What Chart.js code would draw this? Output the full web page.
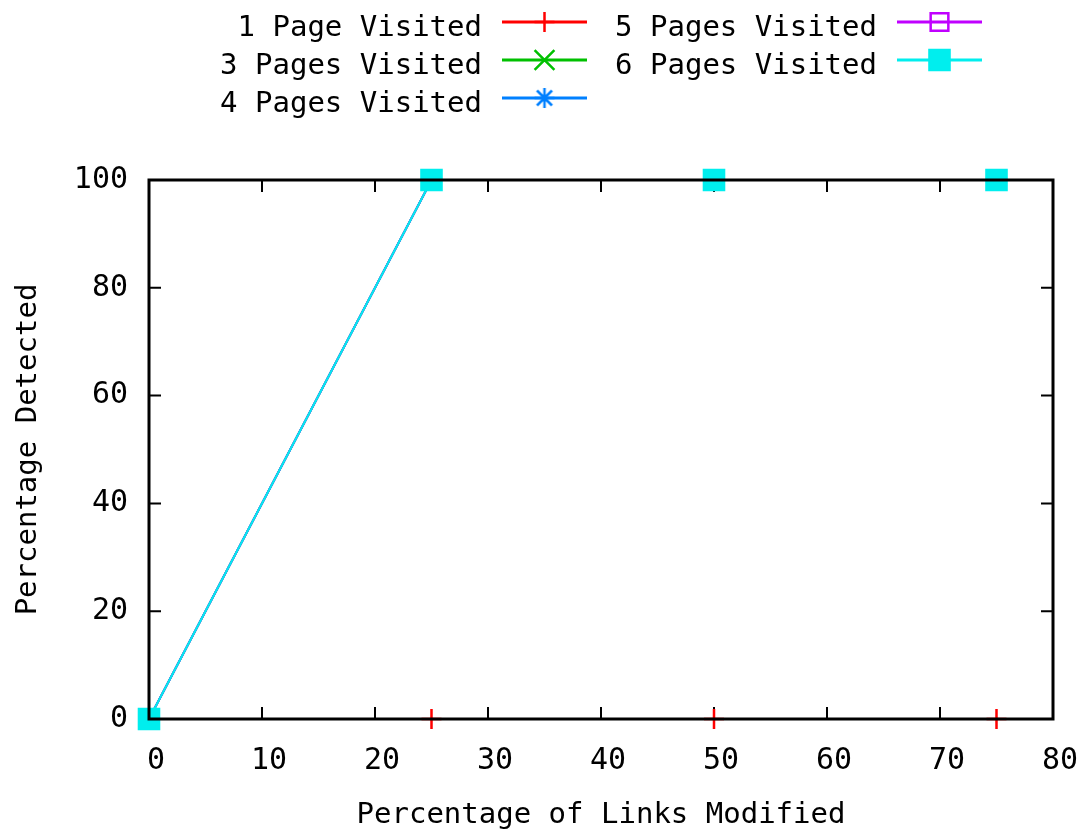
<!DOCTYPE html>
<html>
<head>
<meta charset="utf-8">
<title>Percentage Detected vs Links Modified</title>
<script src="https://cdn.jsdelivr.net/npm/chart.js@4/dist/chart.umd.min.js"></script>
<style>
  html, body { margin: 0; padding: 0; background: #fff; }
  canvas { display: block; }
</style>
</head>
<body>
<canvas id="c" width="1080" height="830"></canvas>
<script>
// Percentage of links modified (x) and percentage detected (y) per series
const linksModified = [0, 25, 50, 75];
const onePageVisited = [0, 0, 0, 0];
const threePagesVisited = [0, 100, 100, 100];
const fourPagesVisited = [0, 100, 100, 100];
const fivePagesVisited = [0, 100, 100, 100];
const sixPagesVisited = [0, 100, 100, 100];
const seriesNames = ['1 Page Visited', '3 Pages Visited', '4 Pages Visited', '5 Pages Visited', '6 Pages Visited'];
const xAxisTitle = 'Percentage of Links Modified';
const yAxisTitle = 'Percentage Detected';

const FONT = '"DejaVu Sans Mono", "Liberation Mono", monospace';

// asterisk marker: a plus and a cross of equal reach
function makeStar(color) {
  const c = document.createElement('canvas');
  c.width = 24; c.height = 24;
  const g = c.getContext('2d');
  g.strokeStyle = color; g.lineWidth = 2.5;
  g.beginPath();
  g.moveTo(12, 2); g.lineTo(12, 22);
  g.moveTo(2, 12); g.lineTo(22, 12);
  g.moveTo(4.5, 4.5); g.lineTo(19.5, 19.5);
  g.moveTo(19.5, 4.5); g.lineTo(4.5, 19.5);
  g.stroke();
  return c;
}

const toPoints = ys => ys.map((y, i) => ({ x: linksModified[i], y }));

const styles = [
  { color: '#ff0000', pointStyle: 'cross',    radius: 10,   fill: 'rgba(0,0,0,0)' },
  { color: '#00c000', pointStyle: 'crossRot', radius: 14,   fill: 'rgba(0,0,0,0)' },
  { color: '#0080ff', pointStyle: makeStar('#0080ff'), radius: 12, fill: 'rgba(0,0,0,0)' },
  { color: '#c000ff', pointStyle: 'rect',     radius: 12.5, fill: 'rgba(0,0,0,0)' },
  { color: '#00eeee', pointStyle: 'rect',     radius: 14.2, fill: '#00eeee' }
];
const seriesValues = [onePageVisited, threePagesVisited, fourPagesVisited, fivePagesVisited, sixPagesVisited];

const datasets = seriesValues.map((vals, i) => ({
  label: seriesNames[i],
  data: toPoints(vals),
  borderColor: styles[i].color,
  backgroundColor: styles[i].fill,
  borderWidth: 2,
  pointStyle: styles[i].pointStyle,
  pointRadius: styles[i].radius,
  pointHoverRadius: styles[i].radius,
  pointBorderColor: styles[i].color,
  pointBackgroundColor: styles[i].fill,
  pointBorderWidth: 2.5,
  tension: 0,
  fill: false,
  clip: false,
  order: seriesValues.length - i
}));

// inner tick marks on all four sides, and the frame drawn over the data
const frame = {
  id: 'frame',
  beforeDatasetsDraw(chart) {
    const { ctx, chartArea: a, scales: { x, y } } = chart;
    const len = 12;
    ctx.save();
    ctx.strokeStyle = '#000';
    ctx.lineWidth = 2;
    ctx.beginPath();
    x.ticks.forEach(t => {
      const px = x.getPixelForValue(t.value);
      ctx.moveTo(px, a.bottom); ctx.lineTo(px, a.bottom - len);
      ctx.moveTo(px, a.top); ctx.lineTo(px, a.top + len);
    });
    y.ticks.forEach(t => {
      const py = y.getPixelForValue(t.value);
      ctx.moveTo(a.left, py); ctx.lineTo(a.left + len, py);
      ctx.moveTo(a.right, py); ctx.lineTo(a.right - len, py);
    });
    ctx.stroke();
    ctx.restore();
  },
  afterDatasetsDraw(chart) {
    const { ctx, chartArea: a } = chart;
    ctx.save();
    ctx.strokeStyle = '#000';
    ctx.lineWidth = 3;
    ctx.strokeRect(a.left, a.top, a.right - a.left, a.bottom - a.top);
    ctx.restore();
  }
};

// key: right-aligned titles followed by a line sample with its marker
const key = {
  id: 'key',
  afterDraw(chart) {
    const { ctx } = chart;
    const columns = [
      { textRight: 482, items: [0, 1, 2] },
      { textRight: 877, items: [3, 4] }
    ];
    const rowY = [22, 60, 98];
    ctx.save();
    ctx.font = '29px ' + FONT;
    ctx.textAlign = 'right';
    ctx.textBaseline = 'middle';
    columns.forEach(col => {
      col.items.forEach((di, r) => {
        const ds = chart.data.datasets[di];
        const yy = rowY[r];
        ctx.fillStyle = '#000';
        ctx.fillText(ds.label, col.textRight, yy + 6);
        const x0 = col.textRight + 20, x1 = col.textRight + 105;
        ctx.strokeStyle = ds.borderColor;
        ctx.lineWidth = 3;
        ctx.beginPath();
        ctx.moveTo(x0, yy); ctx.lineTo(x1, yy);
        ctx.stroke();
        ctx.fillStyle = ds.pointBackgroundColor;
        ctx.lineWidth = 2.5;
        const cx = (x0 + x1) / 2;
        if (Chart.helpers && Chart.helpers.drawPoint) {
          Chart.helpers.drawPoint(ctx, {
            pointStyle: ds.pointStyle,
            radius: ds.pointRadius,
            rotation: 0,
            borderWidth: 2.5
          }, cx, yy);
        }
      });
    });
    ctx.restore();
  }
};

new Chart(document.getElementById('c'), {
  type: 'line',
  data: { datasets },
  options: {
    responsive: false,
    devicePixelRatio: 1,
    animation: false,
    events: [],
    layout: { padding: { top: 180, right: 27, left: 0, bottom: 0 } },
    plugins: { legend: { display: false }, tooltip: { enabled: false } },
    scales: {
      x: {
        type: 'linear',
        min: 0, max: 80,
        ticks: {
          stepSize: 10, color: '#000', padding: 24, labelOffset: 7,
          maxRotation: 0, autoSkip: false,
          font: { family: FONT, size: 30 }
        },
        grid: { display: false, drawTicks: false },
        border: { display: false },
        title: {
          display: true, text: xAxisTitle, color: '#000',
          font: { family: FONT, size: 29, lineHeight: 1 },
          padding: { top: 0, bottom: 0 }
        },
        afterFit(s) { s.height = 111; s.paddingLeft = 0; s.paddingRight = 0; }
      },
      y: {
        type: 'linear',
        min: 0, max: 100,
        ticks: {
          stepSize: 20, color: '#000', padding: 21,
          font: { family: FONT, size: 30 }
        },
        grid: { display: false, drawTicks: false },
        border: { display: false },
        title: {
          display: true, text: yAxisTitle, color: '#000',
          font: { family: FONT, size: 29, lineHeight: 1 },
          padding: { top: 14, bottom: 0 }
        },
        afterFit(s) { s.width = 149; s.paddingTop = 0; s.paddingBottom = 0; }
      }
    }
  },
  plugins: [frame, key]
});
</script>
</body>
</html>
